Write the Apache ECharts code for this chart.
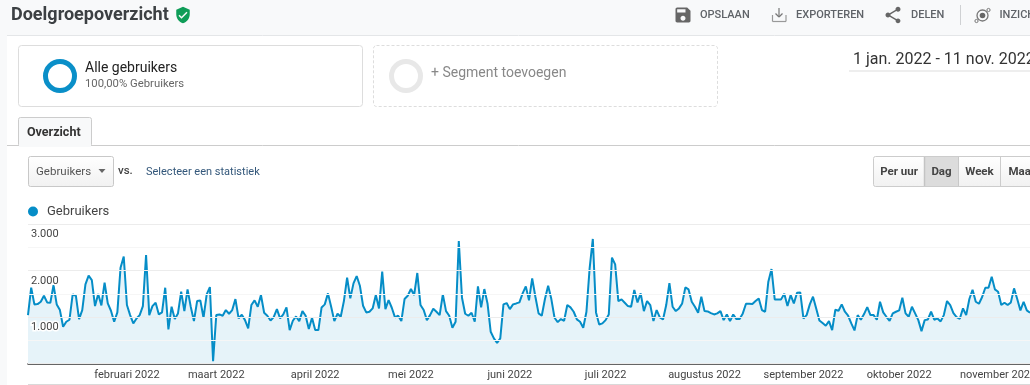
<!DOCTYPE html>
<html>
<head>
<meta charset="utf-8">
<title>Doelgroepoverzicht</title>
<script src="https://cdn.jsdelivr.net/npm/echarts@6/dist/echarts.min.js"></script>
<style>
  html, body { margin: 0; padding: 0; background: #fff; overflow: hidden; }
  #chart { width: 1030px; height: 385px; }
</style>
</head>
<body>
<div id="chart"></div>
<script>
// gebruikers per dag, 1 jan t/m 11 nov 2022
const gebruikers = [
  1041, 1630, 1271, 1278, 1328, 1458, 1314, 1307, 1687, 1271,
  1149, 790, 898, 941, 1486, 1458, 955, 1149, 1702, 1888,
  1795, 1235, 1493, 1249, 1738, 1292, 1134, 898, 1099, 2061,
  2298, 1257, 1041, 862, 969, 1041, 1235, 2334, 1041, 1235,
  1307, 1055, 1099, 1630, 732, 1221, 955, 1077, 1544, 1127,
  1594, 1221, 912, 1343, 1357, 984, 1486, 1644, 50, 1041,
  1055, 1027, 1149, 1070, 1149, 1386, 969, 1048, 933, 754,
  1257, 1357, 1221, 1472, 1091, 1027, 926, 998, 1170, 969,
  1055, 1206, 718, 919, 1012, 912, 1127, 1027, 740, 984,
  718, 718, 1206, 1271, 1508, 1221, 912, 1070, 1005, 1343,
  1845, 1400, 1723, 1881, 1673, 1242, 1099, 1113, 1185, 1472,
  1185, 1975, 1170, 1364, 1199, 991, 1027, 912, 1386, 1458,
  1601, 1472, 1946, 1257, 1149, 933, 1041, 1178, 1113, 1041,
  1486, 1127, 1027, 768, 898, 2635, 1414, 1070, 1027, 1091,
  898, 1659, 1206, 1601, 1292, 682, 539, 445, 539, 1271,
  1300, 1170, 1271, 1292, 1314, 1508, 1659, 1357, 1831, 1436,
  1077, 1027, 1386, 1673, 1386, 984, 890, 955, 919, 1257,
  1206, 1113, 948, 898, 768, 1113, 2046, 2678, 1099, 840,
  862, 933, 1055, 2276, 2132, 1343, 1379, 1307, 1235, 1221,
  1580, 1314, 1508, 1127, 1343, 1257, 912, 1149, 991, 948,
  1257, 1730, 1221, 1127, 1185, 1292, 1637, 1594, 1328, 1221,
  1091, 1436, 1127, 1120, 1084, 1055, 1077, 1127, 933, 1055,
  912, 1055, 955, 955, 1077, 1285, 1285, 1278, 1343, 1400,
  1149, 1113, 1759, 2032, 1379, 1379, 1379, 1501, 1235, 1472,
  1292, 1522, 1529, 969, 1041, 1271, 1436, 1185, 926, 869,
  811, 912, 718, 1156, 1134, 1271, 1113, 1027, 862, 711,
  1041, 941, 1063, 1213, 1041, 1041, 941, 1328, 1099, 1005,
  919, 1077, 1113, 1142, 1414, 1077, 1005, 1221, 1077, 933,
  696, 933, 948, 1113, 941, 969, 905, 1041, 1343, 1257,
  1084, 998, 962, 1185, 1041, 1386, 1587, 1328, 1285, 1429,
  1630, 1630, 1867, 1594, 1544, 1257, 1307, 1257, 1314, 1616,
  1386, 1142, 1328, 1142, 1091
];

// maandlabels en de dag (vanaf 1 jan) waarop ze staan
const maandLabels = ['februari 2022', 'maart 2022', 'april 2022', 'mei 2022', 'juni 2022', 'juli 2022',
  'augustus 2022', 'september 2022', 'oktober 2022', 'november 2022'];
const maandStart = [31, 59, 90, 120, 151, 181, 212, 243, 273, 304];
const yLabels = { 1000: '1.000', 2000: '2.000', 3000: '3.000' };

const dagen = gebruikers.map((_, i) => i);
const FONT = 'Roboto, sans-serif';
const BLAUW = '#058dc7';

// iconen als eigen vormen, viewBox 24x24
echarts.graphic.registerShape('iconSchild', echarts.graphic.extendPath(
  'M12 1L3 5v6c0 5.55 3.84 10.74 9 12 5.16-1.26 9-6.45 9-12V5l-9-4zm-2 16l-4-4 1.41-1.41L10 14.17l6.59-6.59L18 9l-8 8z'));
echarts.graphic.registerShape('iconOpslaan', echarts.graphic.extendPath(
  'M17 3H5c-1.11 0-2 .9-2 2v14c0 1.1.89 2 2 2h14c1.1 0 2-.9 2-2V7l-4-4zm-5 16c-1.66 0-3-1.34-3-3s1.34-3 3-3 3 1.34 3 3-1.34 3-3 3zm3-10H5V5h10v4z'));
echarts.graphic.registerShape('iconDelen', echarts.graphic.extendPath(
  'M18 16.08c-.76 0-1.44.3-1.96.77L8.91 12.7c.05-.23.09-.46.09-.7s-.04-.47-.09-.7l7.05-4.11c.54.5 1.25.81 2.04.81 1.66 0 3-1.34 3-3s-1.34-3-3-3-3 1.34-3 3c0 .24.04.47.09.7L8.04 9.81C7.5 9.31 6.79 9 6 9c-1.66 0-3 1.34-3 3s1.34 3 3 3c.79 0 1.5-.31 2.04-.81l7.12 4.16c-.05.21-.08.43-.08.65 0 1.61 1.31 2.92 2.92 2.92 1.61 0 2.92-1.31 2.92-2.92s-1.31-2.92-2.92-2.92z'));

// hulpjes voor de pagina rondom de grafiek
function tekst(x, y, str, font, fill, align) {
  return {
    type: 'text', silent: true, x: x, y: y,
    style: { text: str, font: font + ' ' + FONT, fill: fill, textAlign: align || 'left', textVerticalAlign: 'middle' }
  };
}
function vlak(x, y, w, h, fill, stroke, r, dash) {
  return {
    type: 'rect', silent: true,
    shape: { x: x, y: y, width: w, height: h, r: r || 0 },
    style: { fill: fill || 'none', stroke: stroke || 'none', lineWidth: 1, lineDash: dash || null }
  };
}
function icoon(naam, x, y, size, fill) {
  return {
    type: naam, silent: true, x: x, y: y, scaleX: size / 24, scaleY: size / 24,
    style: { fill: fill, stroke: 'none' }
  };
}
function ring(cx, cy, r, kleur, dikte) {
  return {
    type: 'circle', silent: true, shape: { cx: cx, cy: cy, r: r },
    style: { fill: 'none', stroke: kleur, lineWidth: dikte }
  };
}
function lijn(x1, y1, x2, y2, kleur, dikte) {
  return {
    type: 'line', silent: true, shape: { x1: x1, y1: y1, x2: x2, y2: y2 },
    style: { stroke: kleur, lineWidth: dikte || 1 }
  };
}

const knopVerloop = {
  type: 'linear', x: 0, y: 0, x2: 0, y2: 1,
  colorStops: [{ offset: 0, color: '#ffffff' }, { offset: 1, color: '#f1f1f1' }]
};

const pagina = [
  // kop
  vlak(0, 0, 1030, 35, '#f8f9fa'),
  vlak(0, 0, 7, 385, '#f8f9fa'),
  lijn(7, 35.5, 1030, 35.5, '#e4e6e8'),
  tekst(11, 15.5, 'Doelgroepoverzicht', '700 18px', '#3c4043'),
  icoon('iconSchild', 174, 6, 18, '#0f9d58'),
  icoon('iconOpslaan', 673, 5, 20, '#666666'),
  tekst(700, 15.5, 'OPSLAAN', '500 11px', '#5f6368'),
  lijn(779, 8, 779, 17, '#777777', 1.2),
  lijn(775.5, 13.5, 779, 17, '#777777', 1.2),
  lijn(782.5, 13.5, 779, 17, '#777777', 1.2),
  lijn(772.5, 15, 772.5, 21.5, '#999999', 1.2),
  lijn(772.5, 21.5, 786, 21.5, '#999999', 1.2),
  lijn(786, 15, 786, 21.5, '#999999', 1.2),
  tekst(796, 15.5, 'EXPORTEREN', '500 11px', '#5f6368'),
  icoon('iconDelen', 883, 5, 20, '#666666'),
  tekst(911, 15.5, 'DELEN', '500 11px', '#5f6368'),
  lijn(960.5, 5, 960.5, 25, '#cfd1d3'),
  ring(982.5, 15.5, 5.5, '#777777', 1.3),
  { type: 'circle', silent: true, shape: { cx: 982.5, cy: 15.5, r: 2.8 }, style: { fill: '#666666' } },
  { type: 'circle', silent: true, shape: { cx: 988.5, cy: 10, r: 1.6 }, style: { fill: '#f8f9fa', stroke: '#777777', lineWidth: 1 } },
  { type: 'circle', silent: true, shape: { cx: 976.5, cy: 21, r: 1.6 }, style: { fill: '#f8f9fa', stroke: '#777777', lineWidth: 1 } },
  tekst(999.5, 15.5, 'INZICHTEN', '500 11px', '#5f6368'),

  // segmenten
  vlak(18.5, 45.5, 344, 61, '#ffffff', '#dddddd', 3),
  ring(60, 76, 14.5, '#0a8fc8', 5),
  tekst(85, 68, 'Alle gebruikers', '14px', '#222222'),
  tekst(85, 84, '100,00% Gebruikers', '11.3px', '#666666'),
  vlak(373.5, 45.5, 344, 61, '#ffffff', '#dddddd', 3, [3, 2]),
  ring(406, 76, 14.5, '#e8e8e8', 5),
  tekst(431, 73, '+ Segment toevoegen', '14px', '#888888'),

  // datumbereik
  tekst(853, 59.5, '1 jan. 2022 - 11 nov. 2022', '16px', '#333333'),
  vlak(849, 70, 181, 2, '#eeeeee'),

  // tab
  lijn(7, 145.5, 1030, 145.5, '#cccccc'),
  vlak(18.5, 117.5, 73, 29, '#f8f9fa', '#cccccc', 2),
  vlak(19, 144, 72, 3, '#f8f9fa'),
  tekst(27, 132.5, 'Overzicht', '700 12.5px', '#333333'),

  // statistiek keuze
  vlak(28.5, 156.5, 85, 30, knopVerloop, '#c8c8c8', 2),
  tekst(36, 172.5, 'Gebruikers', '11.5px', '#555555'),
  { type: 'polygon', silent: true, shape: { points: [[98.5, 169], [105.5, 169], [102, 173]] }, style: { fill: '#666666' } },
  tekst(118, 171, 'vs.', '500 11.5px', '#444444'),
  tekst(146, 172.5, 'Selecteer een statistiek', '11px', '#33577a'),

  // periode knoppen
  vlak(873.5, 156.5, 170, 30, knopVerloop, '#cccccc', 2),
  vlak(924.5, 157, 34, 29, '#dcdcdc'),
  lijn(924.5, 157, 924.5, 186, '#c4c4c4', 1.5),
  lijn(958.5, 157, 958.5, 186, '#c8c8c8'),
  lijn(1000.5, 157, 1000.5, 186, '#cccccc'),
  tekst(899, 172.5, 'Per uur', '700 11.5px', '#444444', 'center'),
  tekst(941.5, 172.5, 'Dag', '700 11.5px', '#444444', 'center'),
  tekst(979.5, 172.5, 'Week', '700 11.5px', '#444444', 'center'),
  tekst(1008.5, 172.5, 'Maand', '700 11.5px', '#444444'),

  // rand onder de grafiek
  lijn(28, 384.5, 1030, 384.5, '#d9d9d9')
];

const chart = echarts.init(document.getElementById('chart'), null, { renderer: 'canvas' });

chart.setOption({
  animation: false,
  textStyle: { fontFamily: FONT },
  legend: {
    show: true,
    left: 28,
    top: 205,
    padding: 0,
    icon: 'circle',
    itemWidth: 10,
    itemHeight: 10,
    textStyle: { fontSize: 13, color: '#444444', padding: [0, 0, 0, 4] }
  },
  // geen automatische marge voor het afgesneden novemberlabel
  grid: { left: 28, right: 0, top: 224, bottom: 21.5, outerBoundsMode: 'none' },
  xAxis: {
    type: 'category',
    boundaryGap: false,
    data: dagen,
    axisLine: { show: true, lineStyle: { color: '#333333', width: 1.5 } },
    axisTick: { show: false },
    splitLine: { show: false },
    axisLabel: {
      interval: (index) => maandStart.includes(index),
      formatter: (value) => maandLabels[maandStart.indexOf(Number(value))] || '',
      fontSize: 11,
      color: '#444444',
      margin: 6
    }
  },
  yAxis: {
    type: 'value',
    min: 0,
    max: 3000,
    interval: 1000,
    axisLine: { show: false },
    axisTick: { show: false },
    minorTick: { show: false, splitNumber: 2 },
    splitLine: { show: true, lineStyle: { color: '#ececec', width: 1 } },
    minorSplitLine: { show: true, lineStyle: { color: '#f6f6f6', width: 1 } },
    axisLabel: {
      inside: true,
      margin: 3,
      formatter: (value) => yLabels[value] || '',
      align: 'left',
      verticalAlign: 'top',
      padding: [5, 0, 0, 0],
      fontSize: 11,
      color: '#444444',
      textBorderColor: '#ffffff',
      textBorderWidth: 3
    },
    z: 5
  },
  series: [
    {
      name: 'Gebruikers',
      type: 'line',
      data: gebruikers,
      symbol: 'none',
      smooth: false,
      lineStyle: { color: BLAUW, width: 2 },
      itemStyle: { color: BLAUW },
      areaStyle: { color: BLAUW, opacity: 0.1 }
    }
  ],
  graphic: { elements: pagina }
});
</script>
</body>
</html>
